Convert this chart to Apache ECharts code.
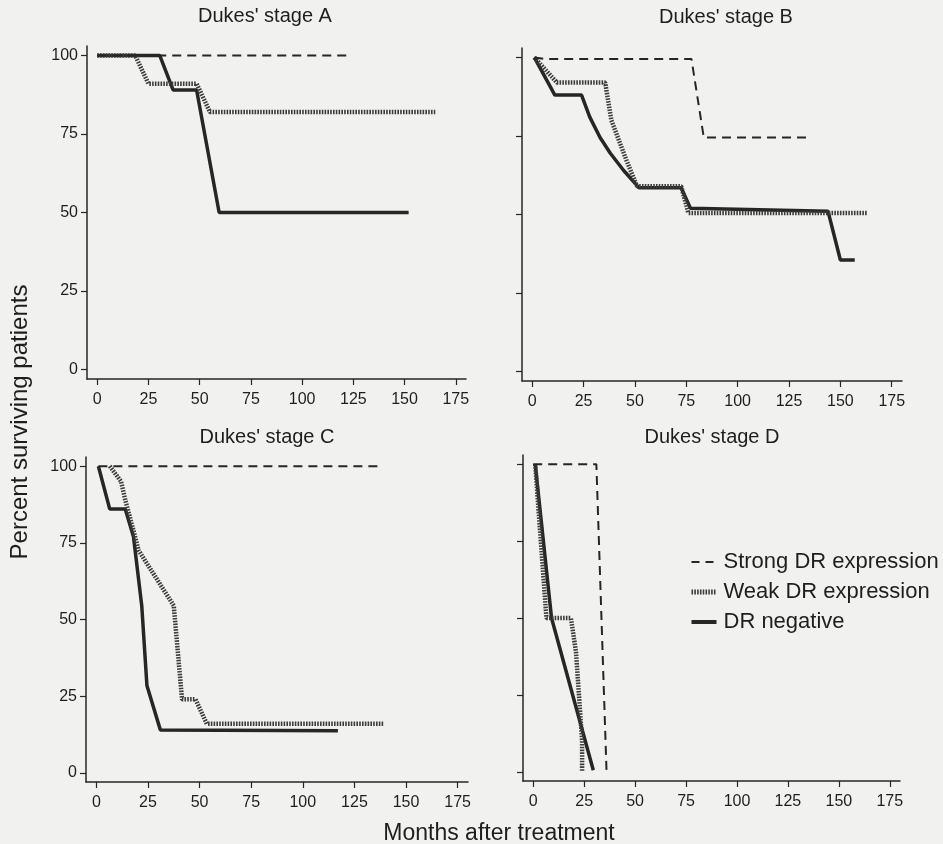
<!DOCTYPE html>
<html>
<head>
<meta charset="utf-8">
<title>Survival by DR expression, Dukes' stages</title>
<script src="https://cdn.jsdelivr.net/npm/echarts@6/dist/echarts.min.js"></script>
<style>
  html, body { margin: 0; padding: 0; background: #f1f1f0; }
  #chart { width: 943px; height: 844px; }
</style>
</head>
<body>
<div id="chart"></div>
<script>
// tick labels
var monthTicks = [0, 25, 50, 75, 100, 125, 150, 175];
var percentTicks = [0, 25, 50, 75, 100];

// panel titles
var stages = ["Dukes' stage A", "Dukes' stage B", "Dukes' stage C", "Dukes' stage D"];
var seriesNames = ['Strong DR expression', 'Weak DR expression', 'DR negative'];

// [months, percent]
var stageA_strong = [[0, 100], [122, 100]];
var stageA_weak = [[0, 100], [18.5, 100], [25, 91], [48.5, 91], [55, 82], [165, 82]];
var stageA_neg = [[0, 100], [30.5, 100], [37, 89], [48.5, 89], [59.5, 50], [152, 50]];

var stageB_strong = [[1, 100], [6, 99.5], [77.5, 99.5], [83.5, 74.5], [136, 74.5]];
var stageB_weak = [[1, 100], [12, 92], [35.5, 92], [38.5, 80], [46, 67], [51, 59], [72.5, 59], [76, 50.5], [163, 50.5]];
var stageB_neg = [[1, 100], [11, 88], [24, 88], [28, 81], [33, 74.5], [38, 69.5], [44.5, 64], [52, 58.5], [72.5, 58.5], [77, 52], [144, 51], [150, 35.5], [157, 35.5]];

var stageC_strong = [[1, 100], [137, 100]];
var stageC_weak = [[6.5, 100], [12, 95], [14, 89], [18, 79], [20.5, 72.5], [37.5, 54.5], [41.5, 24], [48, 24], [53.5, 16], [139, 16]];
var stageC_neg = [[1, 100], [6.5, 86], [14, 86], [18, 77], [22, 54.5], [24.5, 28.5], [31, 14], [117, 13.7]];

var stageD_strong = [[0, 100], [31, 100], [36, 0]];
var stageD_weak = [[1, 100], [6.5, 50], [18.5, 50], [21, 39], [24, 10], [24, 0]];
var stageD_neg = [[1, 100], [9, 50], [29.5, 0.5]];

var panelData = [
  [stageA_strong, stageA_weak, stageA_neg],
  [stageB_strong, stageB_weak, stageB_neg],
  [stageC_strong, stageC_weak, stageC_neg],
  [stageD_strong, stageD_weak, stageD_neg]
];

var ink = '#262626';
var font = "'Liberation Sans', Arial, sans-serif";

// grid boxes (x from -5 to 180, y from -3 to 103)
var grids = [
  { left: 87, top: 46, width: 379, height: 333 },
  { left: 522, top: 48, width: 380, height: 333 },
  { left: 86, top: 457, width: 382, height: 325 },
  { left: 523, top: 455, width: 377, height: 326 }
];
var titlePos = [[265, 16], [726, 17], [267, 437], [712, 437]];

var lineStyles = [
  { color: ink, width: 2, type: [9, 6] },
  { color: '#3c3c3c', width: 4.5, type: [1.6, 1.2] },
  { color: ink, width: 3.5, type: 'solid' }
];
var legendLines = [
  { color: ink, width: 2, type: [8, 6] },
  { color: '#3c3c3c', width: 5, type: [1.6, 1.2] },
  { color: ink, width: 4, type: 'solid' }
];

var xAxes = [], yAxes = [], series = [], graphics = [];

grids.forEach(function (g, i) {
  xAxes.push({
    type: 'value', gridIndex: i, min: -5, max: 180,
    axisLine: { show: true, onZero: false, lineStyle: { color: ink, width: 1.5 } },
    axisTick: { show: true, length: 6, customValues: monthTicks, lineStyle: { color: ink, width: 1.2 } },
    axisLabel: { show: true, customValues: monthTicks, color: '#1e1e1e', fontSize: 16, fontFamily: font, margin: 13 },
    splitLine: { show: false }
  });
  yAxes.push({
    type: 'value', gridIndex: i, min: -3, max: 103,
    axisLine: { show: true, onZero: false, lineStyle: { color: ink, width: 1.5 } },
    axisTick: { show: true, length: 6, customValues: percentTicks, lineStyle: { color: ink, width: 1.2 } },
    axisLabel: { show: i % 2 === 0, customValues: percentTicks, color: '#1e1e1e', fontSize: 16, fontFamily: font, margin: 9 },
    splitLine: { show: false }
  });
  panelData[i].forEach(function (d, k) {
    series.push({
      name: seriesNames[k],
      type: 'line',
      xAxisIndex: i,
      yAxisIndex: i,
      data: d,
      symbol: 'none',
      animation: false,
      lineStyle: lineStyles[k],
      itemStyle: { color: lineStyles[k].color },
      z: 3 - k
    });
  });
  graphics.push({
    type: 'text', x: titlePos[i][0], y: titlePos[i][1],
    style: { text: stages[i], fill: '#1e1e1e', font: '20px ' + font, textAlign: 'center', textVerticalAlign: 'middle' }
  });
});

graphics.push({
  type: 'text', x: 499, y: 834,
  style: { text: 'Months after treatment', fill: '#1e1e1e', font: '23px ' + font, textAlign: 'center', textVerticalAlign: 'middle' }
});
graphics.push({
  type: 'text', x: 20, y: 422, rotation: Math.PI / 2,
  style: { text: 'Percent surviving patients', fill: '#1e1e1e', font: '24px ' + font, textAlign: 'center', textVerticalAlign: 'middle' }
});

var chart = echarts.init(document.getElementById('chart'));
chart.setOption({
  backgroundColor: '#f1f1f0',
  animation: false,
  grid: grids,
  xAxis: xAxes,
  yAxis: yAxes,
  legend: {
    orient: 'vertical',
    left: 684,
    top: 546,
    itemWidth: 25,
    itemHeight: 14,
    itemGap: 8,
    data: seriesNames.map(function (n, k) {
      return { name: n, lineStyle: legendLines[k] };
    }),
    itemStyle: { opacity: 0 },
    textStyle: { color: '#1e1e1e', fontSize: 22, lineHeight: 22, fontFamily: font, padding: [0, 0, 0, 2] }
  },
  series: series,
  graphic: graphics
});
</script>
</body>
</html>
